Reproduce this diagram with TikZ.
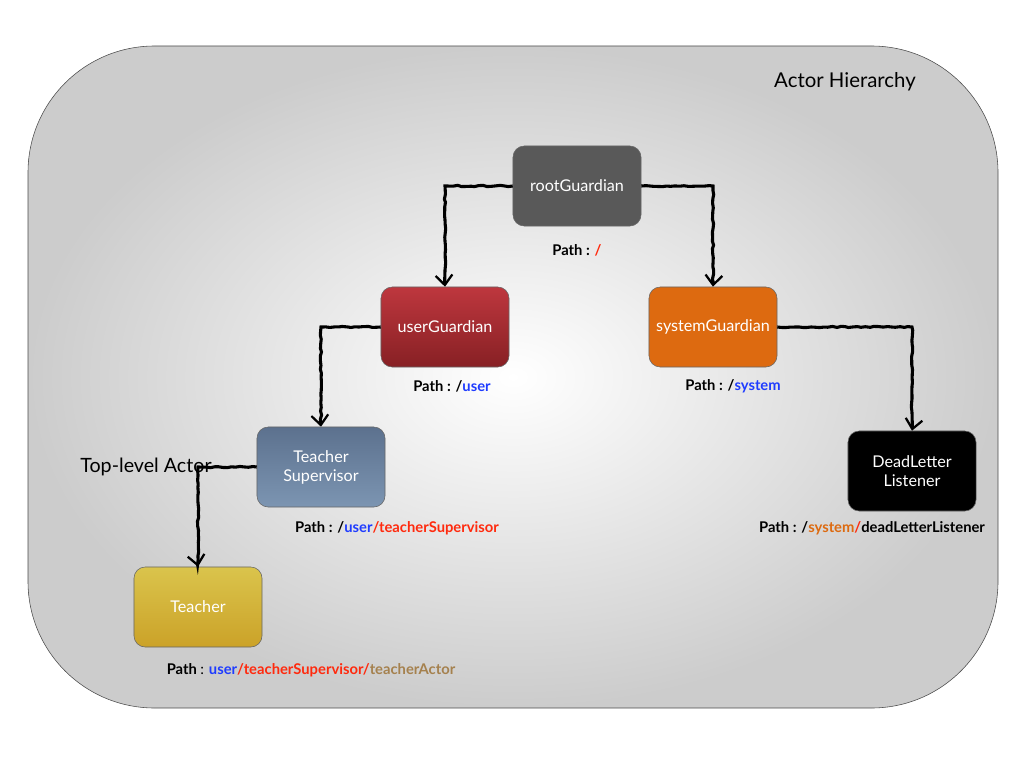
\documentclass[tikz,border=0pt]{standalone}
\usepackage{fontspec}
\setmainfont{Lato}
\usetikzlibrary{arrows.meta,decorations.pathmorphing,shadows}
\definecolor{pathblue}{HTML}{1F3CFF}
\definecolor{pathred}{HTML}{FF2A0E}
\definecolor{pathbrown}{HTML}{A5814E}
\definecolor{sysorange}{HTML}{DD6A10}
\begin{document}
\begin{tikzpicture}[x=0.025cm,y=-0.025cm]

      \tikzset{actor/.style={draw=black!60, rounded corners=8, minimum width=3.2cm, minimum height=2cm, align=center, text=white, font=\fontsize{11.5}{13.5}\selectfont},
               link/.style={line width=2.2pt, black, -{Straight Barb[length=7pt,width=12pt,line width=1.6pt]}, decorate, decoration={random steps, segment length=3pt, amplitude=0.5pt}},
               pathlbl/.style={font=\bfseries\fontsize{10.5}{12}\selectfont}}
      \useasboundingbox (0,0) rectangle (1024,768);
%% Background
      	\shade[draw=black!70, rounded corners=90, inner color=white, outer color=black!20] (28,46) rectangle (998,708);
      	\node[font=\fontsize{14.5}{17}\selectfont] (title) at (845,82) {Actor Hierarchy};
%% Actors
      	\node[actor, fill=black!65] (root) at (577,186) {rootGuardian};
      	\node[actor, top color={rgb,255:red,190;green,55;blue,62}, bottom color={rgb,255:red,135;green,32;blue,36}] (user) at (445,327) {userGuardian};
      	\node[actor, fill=sysorange] (system) at (713,327) {systemGuardian};
      	\node[actor, top color={rgb,255:red,92;green,113;blue,142}, bottom color={rgb,255:red,124;green,149;blue,178}] (super) at (321,467) {Teacher\\Supervisor};
      	\node[actor, fill=black] (dead) at (912,471) {DeadLetter\\Listener};
      	\node[actor, top color={rgb,255:red,218;green,196;blue,76}, bottom color={rgb,255:red,203;green,162;blue,40}] (teacher) at (198,607) {Teacher};
      	\node[font=\fontsize{14}{16}\selectfont] (toplevel) at (146,467) {Top-level Actor};
%% Paths
      	\node[pathlbl] (proot) at (577,250) {Path : \textcolor{pathred}{/}};
      	\node[pathlbl] (puser) at (452,386) {Path : /\textcolor{pathblue}{user}};
      	\node[pathlbl] (psystem) at (733,386) {Path : /\textcolor{pathblue}{system}};
      	\node[pathlbl] (psuper) at (397,528) {Path : /\textcolor{pathblue}{user}\textcolor{pathred}{/teacherSupervisor}};
      	\node[pathlbl] (pdead) at (872,528) {Path : /\textcolor{sysorange}{system}\textcolor{pathred}{/}deadLetterListener};
      	\node[pathlbl] (pteacher) at (311,670) {Path \textmd{:} \textcolor{pathblue}{user}\textcolor{pathred}{/teacherSupervisor/}\textcolor{pathbrown}{teacherActor}};
%Edges
		\draw[link] (root.west) -| (user.north);
		\draw[link] (root.east) -| (system.north);
		\draw[link] (user.west) -| (super.north);
		\draw[link] (system.east) -| (dead.north);
		\draw[link] (super.west) -| (teacher.north);

	\end{tikzpicture}
\end{document}
